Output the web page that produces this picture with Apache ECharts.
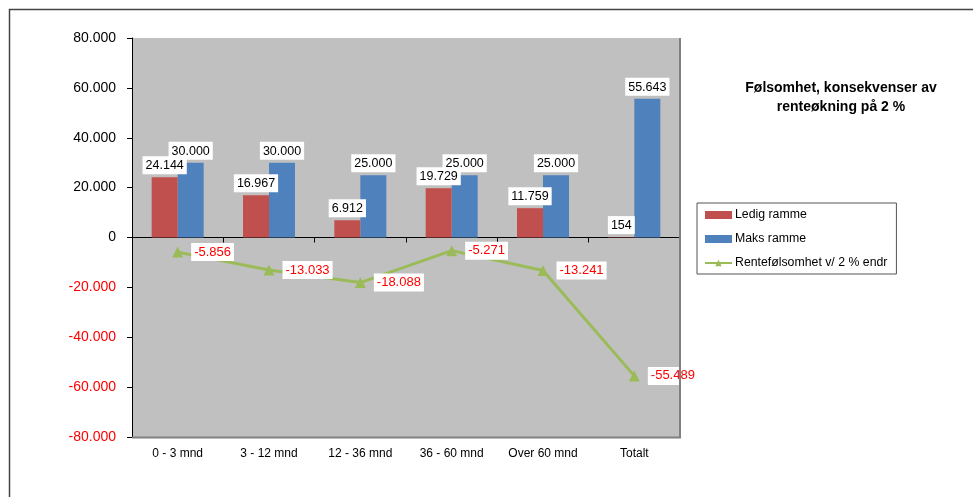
<!DOCTYPE html>
<html>
<head>
<meta charset="utf-8">
<script src="https://cdn.jsdelivr.net/npm/echarts@6/dist/echarts.min.js"></script>
<style>
  html, body { margin: 0; padding: 0; background: #fff; }
  #chart { width: 973px; height: 497px; }
</style>
</head>
<body>
<div id="chart"></div>
<script>
// Maturity buckets and values (NOK thousands)
const categories = ['0 - 3 mnd', '3 - 12 mnd', '12 - 36 mnd', '36 - 60 mnd', 'Over 60 mnd', 'Totalt'];
const ledigRamme = [24144, 16967, 6912, 19729, 11759, 154];
const maksRamme = [30000, 30000, 25000, 25000, 25000, 55643];
const rentefolsomhet = [-5856, -13033, -18088, -5271, -13241, -55489];
const yTicks = { min: -80000, max: 80000, interval: 20000 };

// Norwegian thousands separator
function fmt(v) {
  const s = Math.abs(Math.round(v)).toString().replace(/\B(?=(\d{3})+(?!\d))/g, '.');
  return (v < 0 ? '-' : '') + s;
}

const FONT = '"Liberation Sans", Arial, sans-serif';
const chart = echarts.init(document.getElementById('chart'), null, { renderer: 'canvas' });

const barLabel = {
  show: true,
  position: 'top',
  distance: 3,
  formatter: p => fmt(p.value),
  color: '#000',
  fontFamily: FONT,
  fontSize: 12.5,
  backgroundColor: '#fff',
  padding: [3, 3, 2, 3]
};

chart.setOption({
  animation: false,
  backgroundColor: '#fff',
  textStyle: { fontFamily: FONT },
  title: {
    text: 'Følsomhet, konsekvenser av\nrenteøkning på 2 %',
    left: 836,
    top: 73,
    textAlign: 'center',
    textStyle: { fontFamily: FONT, fontSize: 14, fontWeight: 'bold', color: '#000', lineHeight: 19.5 }
  },
  legend: {
    orient: 'vertical',
    left: 697,
    top: 203,
    padding: [6, 9, 5, 7],
    itemGap: 12,
    itemWidth: 27,
    itemHeight: 8,
    borderColor: '#555',
    borderWidth: 1,
    textStyle: { fontFamily: FONT, fontSize: 12.3, color: '#000', padding: [0, 0, 0, -2] },
    data: [
      { name: 'Ledig ramme', icon: 'rect' },
      { name: 'Maks ramme', icon: 'rect' },
      { name: 'Rentefølsomhet v/ 2 % endr' }
    ]
  },
  grid: {
    left: 132,
    top: 38,
    width: 548,
    height: 399,
    containLabel: false,
    outerBoundsMode: 'none',
    show: true,
    backgroundColor: '#C0C0C0',
    borderWidth: 0
  },
  xAxis: {
    type: 'category',
    data: categories,
    axisLine: { onZero: true, lineStyle: { color: '#000', width: 1 } },
    axisTick: { show: true, length: 5, lineStyle: { color: '#000' } },
    axisLabel: { margin: 11, fontFamily: FONT, fontSize: 12, color: '#000' },
    splitLine: { show: false }
  },
  yAxis: {
    type: 'value',
    min: yTicks.min,
    max: yTicks.max,
    interval: yTicks.interval,
    axisLine: { show: true, lineStyle: { color: '#000', width: 1 } },
    axisTick: { show: true, length: 5, lineStyle: { color: '#000' } },
    splitLine: { show: false },
    axisLabel: {
      margin: 16,
      fontFamily: FONT,
      fontSize: 14,
      formatter: v => fmt(v),
      color: v => (Number(v) < 0 ? '#FF0000' : '#000')
    }
  },
  graphic: [
    // outer frame
    { type: 'polyline', shape: { points: [[9.5, 497], [9.5, 9.5], [973, 9.5]] }, style: { stroke: '#444', lineWidth: 1.5, fill: null } },
    // plot area edge shading
    { type: 'polyline', shape: { points: [[680, 38], [680, 437.5], [132, 437.5]] }, style: { stroke: '#808080', lineWidth: 2, fill: null }, z: 10 }
  ],
  series: [
    {
      name: 'Ledig ramme',
      type: 'bar',
      data: ledigRamme,
      barWidth: 26,
      barGap: '0%',
      itemStyle: { color: '#C0504D' },
      label: barLabel,
      z: 4
    },
    {
      name: 'Maks ramme',
      type: 'bar',
      data: maksRamme,
      barWidth: 26,
      barGap: '0%',
      itemStyle: { color: '#4F81BD' },
      label: barLabel,
      z: 3
    },
    {
      name: 'Rentefølsomhet v/ 2 % endr',
      type: 'line',
      data: rentefolsomhet,
      symbol: 'triangle',
      symbolSize: 11,
      lineStyle: { color: '#9BBB59', width: 3 },
      itemStyle: { color: '#9BBB59' },
      label: {
        show: true,
        position: 'right',
        distance: 8,
        formatter: p => fmt(p.value),
        color: '#FF0000',
        fontFamily: FONT,
        fontSize: 13,
        backgroundColor: '#fff',
        padding: [3, 3, 2, 3]
      },
      z: 5
    }
  ]
});
</script>
</body>
</html>
